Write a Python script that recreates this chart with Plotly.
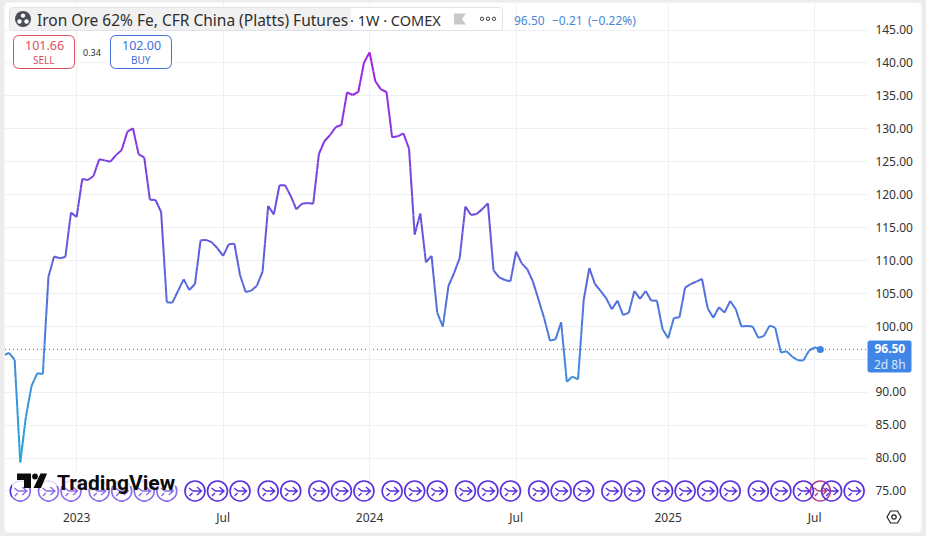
import math
import pandas as pd
import plotly.graph_objects as go

W, H = 926, 536

# weekly closes
prices = [95.6, 95.96, 94.9, 79.36, 86.3, 90.95, 92.87, 92.77, 107.55, 110.6,
          110.33, 110.54, 117.27, 116.6, 122.38, 122.23, 122.83, 125.36, 125.2, 125.0,
          126.0, 126.78, 129.56, 130.07, 126.12, 125.67, 119.24, 119.19, 117.37, 103.65,
          103.6, 105.37, 107.14, 105.52, 106.43, 113.07, 113.12, 112.76, 111.85, 110.69,
          112.46, 112.56, 107.8, 105.22, 105.42, 106.18, 108.3, 118.28, 117.0, 121.42,
          121.42, 119.8, 117.77, 118.63, 118.73, 118.63, 126.17, 128.15, 129.06, 130.27,
          130.58, 135.54, 135.13, 135.59, 140.04, 141.6, 137.26, 135.99, 135.59, 128.7,
          128.86, 129.31, 126.98, 113.93, 117.12, 109.73, 110.69, 102.08, 99.96, 106.13,
          108.1, 110.4, 118.18, 116.9, 117.06, 117.8, 118.68, 108.5, 107.45, 107.04,
          106.84, 111.35, 109.57, 108.66, 106.79, 104.0, 101.2, 97.83, 98.03, 100.6,
          91.6, 92.37, 91.96, 104.0, 108.85, 106.43, 105.4, 104.26, 102.6, 103.9,
          101.7, 102.08, 105.37, 104.16, 105.37, 103.9, 103.9, 99.55, 98.2, 101.27,
          101.37, 105.88, 106.43, 106.79, 107.2, 102.74, 101.32, 102.9, 102.08, 103.85,
          102.6, 99.96, 100.06, 99.96, 98.24, 98.54, 100.11, 99.8, 96.01, 96.21,
          95.4, 94.85, 94.8, 96.31, 96.82, 96.5]
weeks = pd.date_range("2022-10-03", periods=156, freq="7D")
dates = weeks[:len(prices)]

# contract roll markers, as week numbers
roll_weeks = [3, 8, 12, 17, 21, 25, 29, 34, 38, 42, 47, 51, 56, 60, 64, 69, 73, 77, 82,
              86, 90, 95, 99, 103, 108, 112, 117, 121, 125, 129, 134, 138, 142, 147, 151]
earn_weeks = [145]

x_ticks = ["2023-01-02", "2023-07-03", "2024-01-01", "2024-07-01", "2025-01-06", "2025-07-07"]
x_labels = ["2023", "Jul", "2024", "Jul", "2025", "Jul"]
y_ticks = [75, 80, 85, 90, 95, 100, 105, 110, 115, 120, 125, 130, 135, 140, 145]
# 95.00 sits behind the price tag in the original
y_labels = ["75.00", "80.00", "85.00", "90.00", "", "100.00", "105.00", "110.00", "115.00",
            "120.00", "125.00", "130.00", "135.00", "140.00", "145.00"]
last_price = 96.5

FONT = "Noto Sans"
ROLL = "#5a2fe0"
EARN = "#b0408f"
stops = [(79, (30, 168, 220)), (92, (58, 143, 220)), (100, (74, 122, 218)),
         (110, (94, 95, 220)), (120, (112, 72, 220)), (130, (138, 53, 224)), (141, (165, 31, 224))]


def price_colour(v):
    if v <= stops[0][0]:
        return "rgb(%d,%d,%d)" % stops[0][1]
    for (a, ca), (b, cb) in zip(stops, stops[1:]):
        if v <= b:
            t = (v - a) / (b - a)
            return "rgb(%d,%d,%d)" % tuple(round(p + (q - p) * t) for p, q in zip(ca, cb))
    return "rgb(%d,%d,%d)" % stops[-1][1]


def px(x):
    return x / W


def py(y):
    return 1 - y / H


def rounded(x0, y0, x1, y1, r, fill, line, layer="above"):
    # corners need a path, rect shapes have none
    pts = "M%.4f,%.4f L%.4f,%.4f Q%.4f,%.4f %.4f,%.4f L%.4f,%.4f Q%.4f,%.4f %.4f,%.4f L%.4f,%.4f Q%.4f,%.4f %.4f,%.4f L%.4f,%.4f Q%.4f,%.4f %.4f,%.4f Z" % (
        px(x0 + r), py(y0), px(x1 - r), py(y0), px(x1), py(y0), px(x1), py(y0 + r),
        px(x1), py(y1 - r), px(x1), py(y1), px(x1 - r), py(y1),
        px(x0 + r), py(y1), px(x0), py(y1), px(x0), py(y1 - r),
        px(x0), py(y0 + r), px(x0), py(y0), px(x0 + r), py(y0))
    return dict(type="path", xref="paper", yref="paper", path=pts, fillcolor=fill,
                line=dict(color=line, width=1), layer=layer)


def poly(points, fill, line="rgba(0,0,0,0)", width=1):
    p = "M" + " L".join("%.4f,%.4f" % (px(a), py(b)) for a, b in points) + " Z"
    return dict(type="path", xref="paper", yref="paper", path=p, fillcolor=fill,
                line=dict(color=line, width=width), layer="above")


def dot(cx, cy, r, fill, line="rgba(0,0,0,0)", width=1):
    return dict(type="circle", xref="paper", yref="paper", x0=px(cx - r), x1=px(cx + r),
                y0=py(cy + r), y1=py(cy - r), fillcolor=fill, line=dict(color=line, width=width), layer="above")


def glyph(when, colour):
    # small arrow inside a roll marker, sized in pixels around its date
    return dict(type="path", xref="x", yref="y", xsizemode="pixel", ysizemode="pixel",
                xanchor=when, yanchor=75,
                path="M-6,3 L-2,0 L6,0 M2,4 L6.5,0 L2,-4 M-5.5,-5 L-2.5,-2",
                line=dict(color=colour, width=1.4), layer="above")


def label(x, y, text, size, color, anchor="left", family=FONT, weight=None):
    return dict(xref="paper", yref="paper", x=px(x), y=py(y), text=text, showarrow=False,
                xanchor=anchor, yanchor="middle", borderpad=0,
                font=dict(size=size, color=color, family=family, weight=weight))


fig = go.Figure()

# the line fades with price, so each stretch is cut into short pieces
for i in range(len(prices) - 1):
    d0, d1 = dates[i], dates[i + 1]
    v0, v1 = prices[i], prices[i + 1]
    n = max(1, math.ceil(abs(v1 - v0) / 1.5))
    for k in range(n):
        a, b = k / n, (k + 1) / n
        va, vb = v0 + (v1 - v0) * a, v0 + (v1 - v0) * b
        fig.add_trace(go.Scatter(x=[d0 + (d1 - d0) * a, d0 + (d1 - d0) * b], y=[va, vb], mode="lines",
                                 line=dict(color=price_colour((va + vb) / 2), width=2), hoverinfo="skip"))

fig.add_trace(go.Scatter(x=[dates[-1]], y=[last_price], mode="markers",
                         marker=dict(size=7, color="#3f86e0"), hoverinfo="skip"))

# roll markers along the bottom
earn_x = [weeks[i] for i in earn_weeks]
roll_x = [weeks[i] for i in roll_weeks]
fig.add_trace(go.Scatter(x=earn_x, y=[75] * len(earn_x), mode="markers", hoverinfo="skip",
                         marker=dict(symbol="circle-open", size=20, color=EARN, line=dict(width=1.5))))
fig.add_trace(go.Scatter(x=roll_x, y=[75] * len(roll_x), mode="markers", hoverinfo="skip",
                         marker=dict(symbol="circle-open", size=20, color=ROLL, line=dict(width=1.6))))

shapes = [
    rounded(5, 3, 921, 532, 3, "white", "white", layer="below"),
    dict(type="line", xref="paper", yref="y", x0=px(5), x1=px(867), y0=last_price, y1=last_price,
         line=dict(color="#3f6fb5", width=1, dash="1px,3px"), layer="below"),
    # legend bar
    rounded(9.5, 7.5, 502.5, 30.5, 3, "white", "#dfe1e6"),
    rounded(10, 8, 351, 30, 3, "#f1f1f1", "rgba(0,0,0,0)"),
    dot(23, 19, 8, "#4a4d55"),
    dot(23, 15.6, 2.2, "white"), dot(19.5, 21.5, 2.2, "white"), dot(26.5, 21.5, 2.2, "white"),
    poly([(454, 13.5), (466, 13.5), (462, 19), (466, 24.5), (454, 24.5)], "#c9c9c9"),
    dot(482, 18.8, 1.7, "white", "#444", 1), dot(488, 18.8, 1.7, "white", "#444", 1), dot(494, 18.8, 1.7, "white", "#444", 1),
    # sell and buy boxes
    rounded(13.5, 35.5, 74.5, 68.5, 6, "white", "#d8505c"),
    rounded(110.5, 35.5, 171.5, 68.5, 6, "white", "#3f6fd8"),
    # last price tag
    rounded(868, 341, 911, 372, 1.5, "#3f86e6", "#3f86e6"),
]
shapes += [glyph(w, EARN) for w in earn_x]
shapes += [glyph(w, ROLL) for w in roll_x]
shapes += [
    # the watermark washes out the markers it covers
    poly([(12, 470), (178, 470), (178, 486), (12, 486)], "rgba(255,255,255,0.85)"),
    poly([(12, 486), (178, 486), (178, 501), (12, 501)], "rgba(255,255,255,0.3)"),
    # watermark
    poly([(17, 473.5), (31, 473.5), (31, 488), (24, 488), (24, 480), (17, 480)], "#0b0b0b"),
    dot(35, 476.5, 2.9, "#0b0b0b"),
    poly([(40.5, 473.5), (47, 473.5), (41, 488), (33.5, 488)], "#0b0b0b"),
    # settings hexagon
    poly([(887, 517), (890.5, 511), (897.5, 511), (901, 517), (897.5, 523), (890.5, 523)], "white", "#222", 1.2),
    dot(894, 517, 2.2, "white", "#222", 1.2),
]

annotations = [
    label(36, 20, "Iron Ore 62% Fe, CFR China (Platts) Futures", 15.5, "#2e2e2e"),
    label(349, 20, "· 1W · COMEX", 14.5, "#2e2e2e"),
    label(513, 20, "96.50", 12, "#4a86d8"),
    label(551, 20, "−0.21", 12, "#4a86d8"),
    label(587, 20, "(−0.22%)", 12, "#4a86d8"),
    label(44, 46, "101.66", 12.5, "#d8505c", "center"),
    label(44, 60, "SELL", 10, "#d8505c", "center"),
    label(92, 53, "0.34", 9, "#333", "center"),
    label(141, 46, "102.00", 12.5, "#3f6fd8", "center"),
    label(141, 60, "BUY", 10, "#3f6fd8", "center"),
    label(890, 356.5, "<b>96.50</b><br><span style='color:#dce9fb'>2d 8h</span>", 12, "white", "center"),
    label(56, 482.5, "TradingView", 21, "#0b0b0b", family="Roboto", weight=700),
]

fig.update_layout(
    width=W, height=H, showlegend=False,
    margin=dict(l=0, r=0, t=0, b=0, pad=0),
    paper_bgcolor="#ececec", plot_bgcolor="rgba(0,0,0,0)",
    font=dict(family=FONT, size=12, color="#333"),
    shapes=shapes, annotations=annotations,
    xaxis=dict(domain=[px(5), px(867)], range=["2022-10-05", "2025-09-10"],
               tickmode="array", tickvals=x_ticks, ticktext=x_labels,
               ticks="outside", ticklen=2, tickcolor="rgba(0,0,0,0)",
               showgrid=True, gridcolor="#eff0f4", gridwidth=1, zeroline=False, showline=False),
    yaxis=dict(domain=[py(505), py(3)], range=[72.87, 149.1], side="right",
               anchor="x", tickmode="array", tickvals=y_ticks, ticktext=y_labels,
               ticks="outside", ticklen=5, tickcolor="rgba(0,0,0,0)",
               showgrid=True, gridcolor="#eff0f4", gridwidth=1, zeroline=False, showline=False),
)

fig.write_html("out.html", config=dict(displayModeBar=False),
               post_script="document.body.style.margin='0';document.body.style.overflow='hidden';")
